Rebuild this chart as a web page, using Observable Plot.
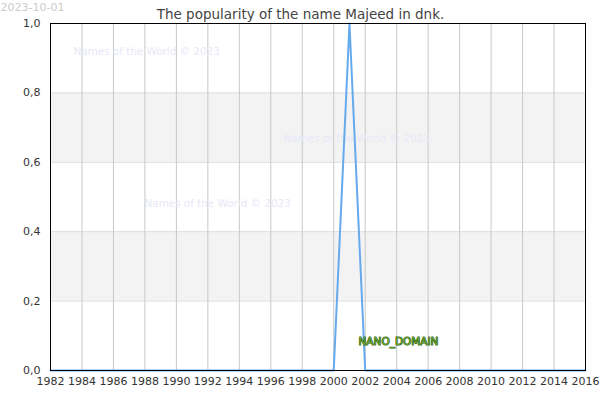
<!DOCTYPE html>
<html><head><meta charset="utf-8">
<script src="https://cdn.jsdelivr.net/npm/d3@7"></script>
<script src="https://cdn.jsdelivr.net/npm/@observablehq/plot@0.6"></script>
<style>body{margin:0;background:#fff;} svg{display:block;}</style>
</head><body><div id="chart"></div>
<script>
const years = [1982,1983,1984,1985,1986,1987,1988,1989,1990,1991,1992,1993,1994,1995,1996,1997,1998,1999,2000,2001,2002,2003,2004,2005,2006,2007,2008,2009,2010,2011,2012,2013,2014,2015,2016];
const values = [0,0,0,0,0,0,0,0,0,0,0,0,0,0,0,0,0,0,0,1,0,0,0,0,0,0,0,0,0,0,0,0,0,0,0];
const xTicks = [1982,1984,1986,1988,1990,1992,1994,1996,1998,2000,2002,2004,2006,2008,2010,2012,2014,2016];
const yTicks = [0,0.2,0.4,0.6,0.8,1.0];
const bandLow = [0.2,0.6];
const bandHigh = [0.4,0.8];
const titleText = "The popularity of the name Majeed in dnk.";
const dateText = "2023-10-01";
const watermark = "Names of the World © 2023";
const domainText = "NANO_DOMAIN";

const data = years.map((y,i)=>({year:y, value:values[i]}));
const bands = bandLow.map((b,i)=>({y1:b, y2:bandHigh[i]}));
const font = "DejaVu Sans, sans-serif";
const yFmt = d => d3.format(".1f")(d).replace(".", ",");

const chart = Plot.plot({
  width: 600, height: 400,
  marginLeft: 50, marginRight: 15, marginTop: 23, marginBottom: 30,
  style: {fontFamily: font, fontSize: "11px", color: "#333", background: "#fff"},
  x: {domain: [1982, 2016], ticks: xTicks, tickFormat: d => String(d), tickSize: 0, tickPadding: 7, label: null},
  y: {domain: [0, 1], ticks: yTicks, tickFormat: yFmt, tickSize: 0, tickPadding: 10, label: null},
  marks: [
    Plot.rect(bands, {x1: () => 1982, x2: () => 2016, y1: "y1", y2: "y2", fill: "#f3f3f3"}),
    Plot.gridY(yTicks.slice(1,5), {stroke: "#dddddd", strokeOpacity: 1}),
    Plot.gridX(xTicks.slice(1,17), {stroke: "#c8c8c8", strokeOpacity: 1}),
    Plot.text([watermark], {frameAnchor: "top-left", dx: 23, dy: 24, text: d => d, textAnchor: "start", fill: "#e8e8f8", fontSize: 10.4}),
    Plot.text([watermark], {frameAnchor: "top-left", dx: 233, dy: 111, text: d => d, textAnchor: "start", fill: "#e8e8f8", fontSize: 10.4}),
    Plot.text([watermark], {frameAnchor: "top-left", dx: 94, dy: 176, text: d => d, textAnchor: "start", fill: "#e8e8f8", fontSize: 10.4}),
    Plot.line(data, {x: "year", y: "value", stroke: "#66aaee", strokeWidth: 2}),
    Plot.frame({stroke: "#000", strokeWidth: 1}),
    Plot.axisX({ticks: xTicks, tickFormat: d => String(d), tickSize: 0, tickPadding: 7, fill: "#333", fontSize: 11}),
    Plot.axisY({ticks: yTicks, tickFormat: yFmt, tickSize: 0, tickPadding: 10, fill: "#333", fontSize: 11}),
    Plot.text([domainText], {frameAnchor: "top-left", dx: 308, dy: 314, text: d => d, textAnchor: "start", fill: "#6aa832", stroke: "#2d5a10", strokeWidth: 1, paintOrder: "stroke", fontSize: 10.5}),
    Plot.text([titleText], {frameAnchor: "top", dx: -17.5, dy: -14, text: d => d, fill: "#444", fontSize: 13.5, letterSpacing: "0.4px"}),
    Plot.text([dateText], {frameAnchor: "top-left", dx: -50, dy: -20, text: d => d, textAnchor: "start", fill: "#cccccc", fontSize: 11})
  ]
});
document.getElementById("chart").appendChild(chart);
</script></body></html>
